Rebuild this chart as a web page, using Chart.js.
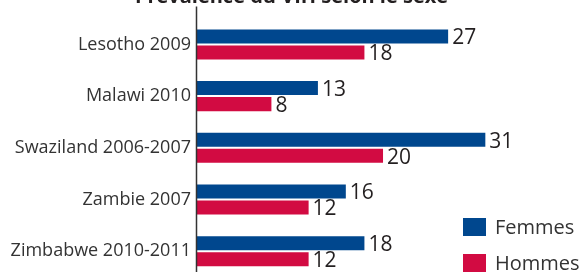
<!DOCTYPE html>
<html>
<head>
<meta charset="utf-8">
<script src="https://cdn.jsdelivr.net/npm/chart.js@4"></script>
<style>
    html, body { margin: 0; padding: 0; background: #fff; }
    #wrap { position: relative; width: 583px; height: 272px; overflow: hidden; }
    #chartBox { position: absolute; left: 0; top: -30px; width: 583px; height: 307px; }
    .legend { position: absolute; left: 463px; font: 20px "Open Sans", sans-serif; color: #333; }
    .legend span { position: absolute; left: 0; width: 23px; height: 18px; }
    .legend div { position: absolute; left: 32px; white-space: nowrap; line-height: 18px; }
</style>
</head>
<body>
<div id="wrap">
    <div id="chartBox"><canvas id="hivChart" width="583" height="307"></canvas></div>
    <div class="legend" style="top:218px"><span style="background:#00478E"></span><div>Femmes</div></div>
    <div class="legend" style="top:254px"><span style="background:#D20B42"></span><div>Hommes</div></div>
</div>
<script>
// Données
const pays = ['Lesotho 2009', 'Malawi 2010', 'Swaziland 2006-2007', 'Zambie 2007', 'Zimbabwe 2010-2011'];
const femmes = [27, 13, 31, 16, 18];
const hommes = [18, 8, 20, 12, 12];

const FONT = '"Open Sans", sans-serif';

// valeurs au bout des barres + trait de l'axe
const extras = {
    id: 'extras',
    afterDatasetsDraw(chart) {
        const ctx = chart.ctx;
        ctx.save();
        ctx.font = '21px ' + FONT;
        ctx.fillStyle = '#231f20';
        ctx.textAlign = 'left';
        ctx.textBaseline = 'middle';
        chart.data.datasets.forEach((ds, i) => {
            chart.getDatasetMeta(i).data.forEach((bar, j) => {
                ctx.fillText(ds.data[j], bar.x + 4, bar.y + 2);
            });
        });
        const x = chart.chartArea.left - 0.5;
        ctx.strokeStyle = '#333';
        ctx.lineWidth = 1.5;
        ctx.beginPath();
        ctx.moveTo(x, chart.chartArea.top - 12);
        ctx.lineTo(x, chart.height);
        ctx.stroke();
        ctx.restore();
    }
};

new Chart(document.getElementById('hivChart').getContext('2d'), {
    type: 'bar',
    data: {
        labels: pays,
        datasets: [
            {
                label: 'Femmes',
                data: femmes,
                backgroundColor: '#00478E',
                categoryPercentage: 0.62,
                barPercentage: 0.875
            },
            {
                label: 'Hommes',
                data: hommes,
                backgroundColor: '#D20B42',
                categoryPercentage: 0.62,
                barPercentage: 0.875
            }
        ]
    },
    options: {
        indexAxis: 'y',
        responsive: false,
        animation: false,
        layout: { padding: 0 },
        scales: {
            x: {
                display: false,
                min: 0,
                max: 41.5
            },
            y: {
                grid: { display: false, drawTicks: false },
                border: { display: false },
                ticks: {
                    padding: 6,
                    color: '#333',
                    font: { family: FONT, size: 18 }
                },
                afterFit(scale) {
                    scale.width = 197;
                    scale.paddingTop = 0;
                    scale.paddingBottom = 0;
                }
            }
        },
        plugins: {
            legend: { display: false },
            tooltip: { enabled: false },
            title: {
                display: true,
                text: 'Prévalence du VIH selon le sexe',
                color: '#231f20',
                font: { family: FONT, size: 20, weight: 'bold' },
                padding: { top: 15, bottom: 9.6 }
            }
        }
    },
    plugins: [extras]
});
</script>
</body>
</html>
